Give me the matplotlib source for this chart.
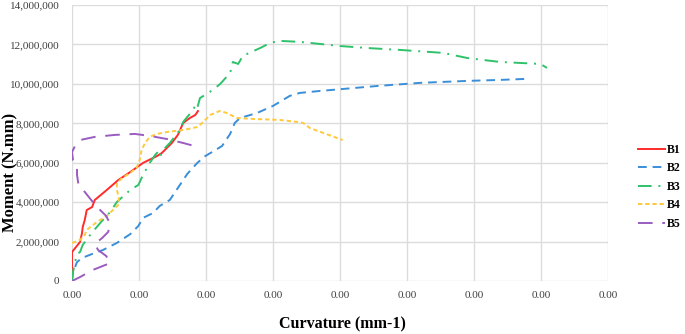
import matplotlib

matplotlib.use("Agg")

import matplotlib.pyplot as plt
from matplotlib.ticker import FuncFormatter, MultipleLocator


# ---------------------------------------------------------------------------
# Data (curvature in 1e-5 mm^-1, moment in million N.mm)
# ---------------------------------------------------------------------------

b1_x = [0, 0, 0.12, 0.15, 0.16, 0.19, 0.22, 0.30, 0.34, 0.52, 0.69, 0.87,
        1.06, 1.27, 1.34, 1.49, 1.58, 1.66, 1.76, 1.84, 1.88]
b1_y = [0, 1.47, 1.98, 2.44, 2.74, 3.09, 3.60, 3.75, 4.11, 4.62, 5.12, 5.53,
        5.99, 6.34, 6.49, 7.00, 7.41, 8.02, 8.27, 8.42, 8.62]

b2_x = [0, 0.015, 0.075, 0.15, 0.30, 0.46, 0.67, 0.87, 0.99, 1.06, 1.21,
        1.31, 1.46, 1.58, 1.72, 1.87, 1.99, 2.09, 2.24, 2.36, 2.43, 2.51,
        2.76, 3.00, 3.25, 3.40, 3.70, 4.04, 4.55, 5.19, 5.90, 6.39, 6.76, 6.78]
b2_y = [0, 0.46, 0.96, 1.17, 1.37, 1.57, 1.93, 2.38, 2.79, 3.20, 3.45,
        3.81, 4.11, 4.72, 5.43, 5.99, 6.34, 6.54, 6.85, 7.46, 8.02, 8.27,
        8.52, 8.88, 9.39, 9.54, 9.64, 9.74, 9.89, 10.05, 10.15, 10.20, 10.25, 10.10]

b3_x = [0, 0.015, 0.045, 0.075, 0.12, 0.16, 0.27, 0.37, 0.46, 0.57, 0.67,
        0.87, 0.99, 1.06, 1.16, 1.24, 1.28, 1.31, 1.36, 1.46, 1.61, 1.66,
        1.72, 1.81, 1.84, 1.87, 1.91, 2.01, 2.10, 2.21, 2.36, 2.40, 2.48,
        2.55, 2.81, 2.96, 3.10, 3.40, 4.00, 4.40, 4.90, 5.54, 5.90, 6.39,
        6.99, 7.09]
b3_y = [0, 0.46, 0.96, 1.37, 1.47, 1.83, 2.33, 2.74, 3.09, 3.50, 4.01,
        4.62, 4.87, 5.38, 5.99, 6.39, 6.54, 6.29, 6.65, 7.00, 7.66, 8.07,
        8.32, 8.68, 8.93, 8.78, 9.28, 9.49, 9.69, 9.99, 10.55, 11.11, 11.01,
        11.42, 11.82, 12.08, 12.18, 12.13, 11.92, 11.82, 11.72, 11.57, 11.31,
        11.11, 11.01, 10.81]

b4_x = [0, 0.12, 0.19, 0.22, 0.37, 0.52, 0.61, 0.69, 0.70, 0.67, 0.67,
        0.75, 0.87, 0.97, 1.01, 1.04, 1.09, 1.16, 1.27, 1.42, 1.66, 1.87,
        1.96, 2.06, 2.21, 2.31, 2.46, 2.70, 3.10, 3.36, 3.45, 3.55, 3.75, 4.04]
b4_y = [1.93, 2.08, 2.33, 2.59, 2.99, 3.30, 3.60, 3.86, 4.21, 4.62, 4.97,
        5.23, 5.48, 5.78, 6.14, 6.65, 7.00, 7.31, 7.46, 7.56, 7.66, 7.81,
        8.07, 8.42, 8.63, 8.52, 8.27, 8.22, 8.17, 8.07, 8.02, 7.76, 7.51, 7.15]

b5_x = [0, 0.12, 0.31, 0.57, 0.51, 0.39, 0.34, 0.45, 0.54, 0.57, 0.51,
        0.42, 0.31, 0.19, 0.10, 0.075, 0.075, 0.015, 0.0, 0.045, 0.12,
        0.34, 0.64, 0.94, 1.16, 1.42, 1.66, 1.88]
b5_y = [0, 0.20, 0.56, 0.91, 1.27, 1.57, 1.88, 2.18, 2.49, 2.89, 3.30,
        3.60, 4.01, 4.52, 4.82, 5.38, 5.83, 6.14, 6.54, 6.85, 7.15,
        7.31, 7.41, 7.46, 7.36, 7.20, 7.00, 6.80]

series_names = ["B1", "B2", "B3", "B4", "B5"]


# ---------------------------------------------------------------------------
# Plot
# ---------------------------------------------------------------------------

def plot_chart(save_path="out.png"):
    plt.rcParams["font.family"] = ["Liberation Serif", "DejaVu Serif"]

    fig = plt.figure(figsize=(6.85, 3.34), dpi=100)
    ax = fig.add_axes([72 / 685, 1 - 281 / 334, 536 / 685, 276 / 334])

    styles = [
        ("#ff2a2a", "-"),
        ("#3a8fd9", (0, (4.5, 3))),
        ("#2ec26a", (0, (7, 3.5, 1, 3.5))),
        ("#ffc93c", (0, (2.2, 1.5))),
        ("#9a5cc0", (0, (7.5, 5))),
    ]
    data = [(b1_x, b1_y), (b2_x, b2_y), (b3_x, b3_y), (b4_x, b4_y), (b5_x, b5_y)]

    for name, (xs, ys), (color, ls) in zip(series_names, data, styles):
        ax.plot(
            [x * 1e-5 for x in xs],
            [y * 1e6 for y in ys],
            color=color,
            linestyle=ls,
            linewidth=1.4,
            label=name,
        )

    ax.set_xlim(0, 8e-5)
    ax.set_ylim(0, 14e6)
    ax.xaxis.set_major_locator(MultipleLocator(1e-5))
    ax.yaxis.set_major_locator(MultipleLocator(2e6))
    ax.xaxis.set_major_formatter(FuncFormatter(lambda v, p: f"{v:.2f}"))
    ax.yaxis.set_major_formatter(FuncFormatter(lambda v, p: f"{v:,.0f}"))

    ax.grid(True, color="#dcdcdc", linewidth=1.0)
    ax.set_axisbelow(True)
    for spine in ax.spines.values():
        spine.set_visible(False)
    ax.tick_params(length=0, labelsize=8, colors="#404040")
    ax.tick_params(axis="x", pad=7)
    ax.tick_params(axis="y", pad=9)

    fig.text(342 / 685, 1 - 324 / 334, "Curvature (mm-1)", ha="center",
             va="center", fontsize=11.5, fontweight="bold")
    fig.text(10 / 685, 1 - 172 / 334, "Moment (N.mm)", ha="center",
             va="center", rotation=90, fontsize=12, fontweight="bold")

    ax.legend(
        loc="upper left",
        bbox_to_anchor=(638 / 685, 1 - 144 / 334),
        bbox_transform=fig.transFigure,
        frameon=False,
        prop={"weight": "bold", "size": 8.5},
        handlelength=2.3,
        handletextpad=0.15,
        labelspacing=0.55,
        borderpad=0,
        borderaxespad=0,
    )

    fig.savefig(save_path, dpi=100)
    plt.close(fig)


if __name__ == "__main__":
    plot_chart()
